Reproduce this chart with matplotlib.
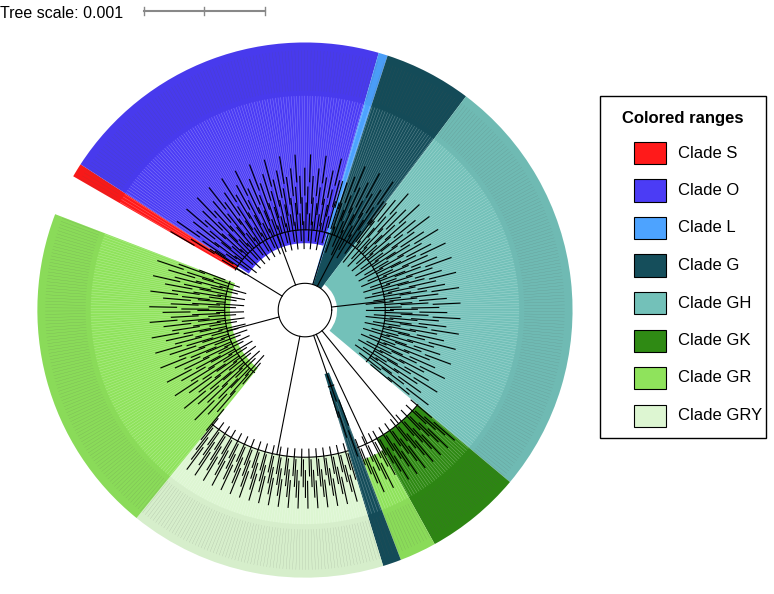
import numpy as np
import matplotlib
matplotlib.use("Agg")
import matplotlib.pyplot as plt
from matplotlib.patches import Wedge, Rectangle

plt.rcParams["font.family"] = "Liberation Sans"

# Clade ranges (degrees, counter-clockwise) and inner radius of coloured range
clades = ["Clade S", "Clade O", "Clade L", "Clade G", "Clade GH", "Clade GK", "Clade GR", "Clade GRY"]
colors = ["#FF1A1A", "#4B3CF5", "#4DA3FF", "#154E5B", "#73C1B9", "#2F8A14", "#8FE35C", "#DDF6D2"]
ranges = [
    ("Clade S", 147, 150, 0.30),
    ("Clade O", 74, 147, 0.25),
    ("Clade L", 72, 74, 0.10),
    ("Clade G", 53, 72, 0.10),
    ("Clade GH", -40, 53, 0.12),
    ("Clade GK", -61, -40, 0.55),
    ("Clade GR", -69, -61, 0.60),
    ("Clade G", -73, -69, 0.25),
    ("Clade GRY", -129, -73, 0.55),
    ("Clade GR", 159, 231, 0.28),
]
leaves_per_degree = 1.4
tip_levels = [0.42, 0.50, 0.36, 0.58, 0.46, 0.40, 0.53, 0.33]

fig = plt.figure(figsize=(7.74, 5.94), dpi=100)
ax = fig.add_axes([0.031, 0.005, 0.726, 0.946])
ax.set_xlim(-1.05, 1.05); ax.set_ylim(-1.05, 1.05)
ax.set_aspect("equal"); ax.axis("off")

cmap = dict(zip(clades, colors))
for name, a0, a1, rin in ranges:
    ax.add_patch(Wedge((0, 0), 1.0, a0, a1, width=1.0 - rin, facecolor=cmap[name], edgecolor="none"))
    ax.add_patch(Wedge((0, 0), 1.0, a0, a1, width=0.2, facecolor="black", alpha=0.03, edgecolor="none"))
    n = max(2, int((a1 - a0) * leaves_per_degree))
    angs = np.radians(np.linspace(a0 + 0.3, a1 - 0.3, n))
    for i, t in enumerate(angs):
        tip = tip_levels[i % len(tip_levels)] if rin < 0.5 else 0.62 + 0.04 * (i % 4)
        ax.plot([0.8 * np.cos(t), tip * np.cos(t)], [0.8 * np.sin(t), tip * np.sin(t)],
                color="white", lw=0.3, alpha=0.4)
        ax.plot([tip * np.cos(t), (tip - 0.1) * np.cos(t)], [tip * np.sin(t), (tip - 0.1) * np.sin(t)],
                color="black", lw=0.8)
        ax.plot([0.82 * np.cos(t), 0.97 * np.cos(t)], [0.82 * np.sin(t), 0.97 * np.sin(t)],
                color="#555555", lw=0.2, alpha=0.35)
    mid_r = (tip_levels[0] - 0.12) if rin < 0.5 else 0.55
    th = np.radians(np.linspace(a0, a1, 50))
    ax.plot(mid_r * np.cos(th), mid_r * np.sin(th), color="black", lw=0.8)
    tm = np.radians((a0 + a1) / 2)
    ax.plot([0.1 * np.cos(tm), mid_r * np.cos(tm)], [0.1 * np.sin(tm), mid_r * np.sin(tm)], color="black", lw=0.8)

th = np.linspace(0, 2 * np.pi, 100)
ax.plot(0.1 * np.cos(th), 0.1 * np.sin(th), color="black", lw=0.8)

# tree scale
fig.text(0.0, 0.977, "Tree scale: 0.001", fontsize=11.5, va="center", ha="left")
fig.add_artist(plt.Line2D([0.186, 0.342], [0.982, 0.982], color="#888888", lw=1.5))
for x in [0.186, 0.264, 0.342]:
    fig.add_artist(plt.Line2D([x, x], [0.975, 0.989], color="#888888", lw=1))

# legend
lx0, ly0, lw_, lh = 600/774, 1 - 438/594, 166/774, (438-96)/594
fig.add_artist(Rectangle((lx0, ly0), lw_, lh, transform=fig.transFigure, fill=False, edgecolor="black", lw=1))
fig.text(lx0 + lw_/2, 1 - 118/594, "Colored ranges", fontsize=12, fontweight="bold", ha="center", va="center")
for i, (c, col) in enumerate(zip(clades, colors)):
    y = 1 - (153 + i * 37.5) / 594
    fig.add_artist(Rectangle((634/774, y - 11/594), 32/774, 22/594, transform=fig.transFigure,
                             facecolor=col, edgecolor="black", lw=0.8))
    fig.text(678/774, y, c, fontsize=12, va="center", ha="left")

fig.savefig("out.png", dpi=100)
